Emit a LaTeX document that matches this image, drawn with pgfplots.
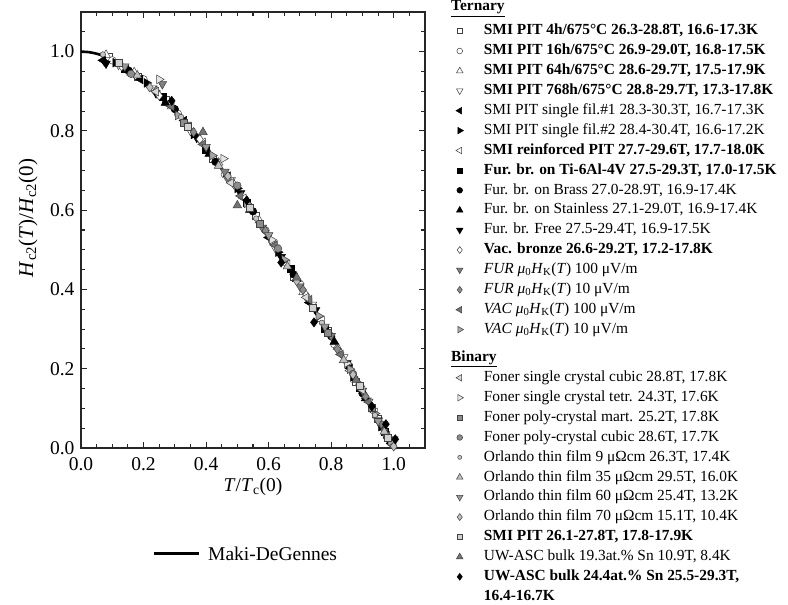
\documentclass[border=0pt]{standalone}
\usepackage{fontspec}
\setmainfont{Liberation Serif}
\usepackage{pgfplots}
\pgfplotsset{compat=1.18}

% marker styles
\pgfplotsset{
  openmk/.style={only marks, mark options={draw=black!75, fill=white, line width=0.5pt, #1}},
  fullmk/.style={only marks, mark options={draw=black, fill=black, line width=0.5pt, #1}},
  greymk/.style 2 args={only marks, mark options={draw=black!75, fill=black!#1, line width=0.5pt, #2}},
  % section headings inside the legend: baseline offset, extra room above, text
  header/.style n args={3}{legend image code/.code={\path (0pt,-7.25pt) (17pt,7.25pt+#2);
      \node[overlay, anchor=base west, inner sep=0pt] at (0pt,#1) {\textbf{\underline{#3}}};}},
  blankimg/.style={legend image code/.code={\path (0pt,0pt) (17pt,0pt);}},
  sqmk/.style={mark=square*, mark size=3.5pt},
  cimk/.style={mark=*, mark size=3.8pt},
  trmk/.style={mark=triangle*, mark size=5pt},
  dimk/.style={mark=diamond*, mark size=4.6pt},
}

\begin{document}
\begin{tikzpicture}
\begin{axis}[
  at={(81pt,157pt)}, anchor=south west,
  scale only axis, width=344pt, height=436pt,
  xmin=0, xmax=1.1, ymin=0, ymax=1.1,
  xtick={0,0.2,...,1.2}, ytick={0,0.2,...,1.2},
  minor x tick num=3, minor y tick num=3,
  tick align=inside, tick pos=both,
  major tick length=6pt, minor tick length=4pt,
  axis line style={line width=1.4pt, black!85},
  every tick/.append style={line width=1.1pt, black!85},
  /pgf/number format/assume math mode=true,
  tick label style={font=\fontsize{19.5}{22}\selectfont},
  xticklabel style={/pgf/number format/fixed, /pgf/number format/fixed zerofill, /pgf/number format/precision=1, yshift=-6pt},
  yticklabel style={/pgf/number format/fixed, /pgf/number format/fixed zerofill, /pgf/number format/precision=1, xshift=-3pt},
  xlabel={\textit{T}/\textit{T}\textsubscript{c}(0)},
  ylabel={\textit{H}\textsubscript{c2}(\textit{T})/\textit{H}\textsubscript{c2}(0)},
  xlabel style={font=\fontsize{19.5}{22}\selectfont, at={(axis description cs:0.5,-0.089)}, anchor=center},
  ylabel style={font=\fontsize{21}{24}\selectfont, at={(axis description cs:-0.154,0.5275)}, anchor=center},
  legend cell align=left,
  legend style={at={(1.0756,1.0194)}, anchor=north west, draw=none, fill=none,
    inner sep=0pt, outer sep=0pt, row sep=5.4pt, column sep=15.5pt,
    font=\fontsize{15.4}{18}\selectfont,
    nodes={inner sep=0pt, text height=11pt, text depth=3.5pt}},
  legend image post style={every mark/.append style={scale=0.75}},
]
% Maki-DeGennes temperature dependence
\addplot[black, line width=2.6pt, smooth, forget plot] coordinates {
  (0,1.0000)(0.025,0.9987)(0.05,0.9948)(0.075,0.9884)(0.1,0.9798)(0.125,0.9690)
  (0.15,0.9565)(0.175,0.9423)(0.2,0.9264)(0.225,0.9091)(0.25,0.8905)(0.275,0.8707)
  (0.3,0.8500)(0.35,0.8049)(0.4,0.7564)(0.45,0.7048)(0.5,0.6504)(0.55,0.5935)
  (0.6,0.5343)(0.65,0.4732)(0.7,0.4100)(0.75,0.3453)(0.8,0.2790)(0.85,0.2112)
  (0.9,0.1420)(0.95,0.0716)(0.975,0.0360)(1.0,0.0)};
% ---------------- Ternary ----------------
\addlegendimage{header={0pt}{0pt}{Ternary}}\addlegendentry{}
\addplot[openmk, sqmk] coordinates {(0.09,0.986)(0.18,0.936)(0.27,0.879)(0.42,0.731)(0.56,0.585)(0.68,0.431)(0.79,0.296)(0.88,0.166)(0.95,0.075)(0.99,0.018)};
\addlegendentry{\textbf{SMI PIT 4h/675°C 26.3-28.8T, 16.6-17.3K}}
\addplot[openmk, cimk] coordinates {(0.10,0.978)(0.20,0.930)(0.31,0.843)(0.46,0.690)(0.59,0.549)(0.70,0.414)(0.81,0.262)(0.89,0.159)(0.96,0.060)};
\addlegendentry{\textbf{SMI PIT 16h/675°C 26.9-29.0T, 16.8-17.5K}}
\addplot[openmk, trmk] coordinates {(0.08,0.992)(0.17,0.948)(0.29,0.862)(0.44,0.720)(0.57,0.574)(0.71,0.393)(0.82,0.255)(0.91,0.131)(0.98,0.032)};
\addlegendentry{\textbf{SMI PIT 64h/675°C 28.6-29.7T, 17.5-17.9K}}
\addplot[openmk={rotate=180}, trmk] coordinates {(0.12,0.967)(0.23,0.907)(0.35,0.800)(0.48,0.676)(0.62,0.506)(0.74,0.362)(0.84,0.229)(0.92,0.117)(0.99,0.012)};
\addlegendentry{\textbf{SMI PIT 768h/675°C 28.8-29.7T, 17.3-17.8K}}
\addplot[fullmk={rotate=90}, trmk] coordinates {(0.07,0.978)(0.19,0.930)(0.33,0.826)(0.47,0.686)(0.60,0.531)(0.73,0.367)(0.86,0.201)(0.97,0.047)};
\addlegendentry{SMI PIT single fil.\#1 28.3-30.3T, 16.7-17.3K}
\addplot[fullmk={rotate=-90}, trmk] coordinates {(0.11,0.972)(0.21,0.921)(0.36,0.791)(0.50,0.655)(0.63,0.494)(0.76,0.328)(0.87,0.179)(0.96,0.054)};
\addlegendentry{SMI PIT single fil.\#2 28.4-30.4T, 16.6-17.2K}
\addplot[openmk={rotate=90}, trmk] coordinates {(0.28,0.866)(0.39,0.771)(0.52,0.630)(0.66,0.463)(0.77,0.322)(0.86,0.195)(0.94,0.090)(1.00,0.008)};
\addlegendentry{\textbf{SMI reinforced PIT 27.7-29.6T, 17.7-18.0K}}
\addplot[fullmk, sqmk] coordinates {(0.14,0.958)(0.26,0.886)(0.40,0.752)(0.53,0.619)(0.67,0.451)(0.78,0.302)(0.89,0.152)(0.97,0.040)};
\addlegendentry{\textbf{Fur. br. on Ti-6Al-4V 27.5-29.3T, 17.0-17.5K}}
\addplot[fullmk, cimk] coordinates {(0.15,0.953)(0.30,0.855)(0.43,0.722)(0.55,0.597)(0.68,0.438)(0.80,0.282)(0.90,0.138)(0.98,0.025)};
\addlegendentry{Fur. br. on Brass 27.0-28.9T, 16.9-17.4K}
\addplot[fullmk, trmk] coordinates {(0.16,0.947)(0.27,0.871)(0.41,0.742)(0.54,0.601)(0.69,0.426)(0.81,0.268)(0.91,0.125)(0.99,0.017)};
\addlegendentry{Fur. br. on Stainless 27.1-29.0T, 16.9-17.4K}
\addplot[fullmk={rotate=180}, trmk] coordinates {(0.08,0.970)(0.24,0.895)(0.37,0.783)(0.51,0.643)(0.64,0.482)(0.75,0.348)(0.85,0.214)(0.95,0.070)(1.00,0.022)};
\addlegendentry{Fur. br. Free 27.5-29.4T, 16.9-17.5K}
\addplot[openmk, dimk] coordinates {(0.13,0.963)(0.25,0.889)(0.38,0.779)(0.49,0.664)(0.61,0.520)(0.72,0.386)(0.83,0.240)(0.93,0.103)(0.99,0.020)};
\addlegendentry{\textbf{Vac. bronze 26.6-29.2T, 17.2-17.8K}}
\addplot[greymk={50}{rotate=180}, trmk] coordinates {(0.26,0.918)(0.34,0.816)(0.46,0.697)(0.58,0.556)(0.70,0.408)(0.80,0.283)(0.90,0.145)(0.96,0.061)};
\addlegendentry{\textit{FUR} \textit{μ}\textsubscript{0}\textit{H}\textsubscript{K}(\textit{T}) 100 μV/m}
\addplot[greymk={45}{}, dimk] coordinates {(0.24,0.902)(0.36,0.797)(0.47,0.679)(0.59,0.548)(0.71,0.399)(0.82,0.249)(0.91,0.130)(0.97,0.045)};
\addlegendentry{\textit{FUR} \textit{μ}\textsubscript{0}\textit{H}\textsubscript{K}(\textit{T}) 10 μV/m}
\addplot[greymk={55}{rotate=90}, trmk] coordinates {(0.29,0.862)(0.39,0.766)(0.51,0.636)(0.62,0.512)(0.73,0.374)(0.83,0.236)(0.92,0.116)(0.98,0.031)};
\addlegendentry{\textit{VAC} \textit{μ}\textsubscript{0}\textit{H}\textsubscript{K}(\textit{T}) 100 μV/m}
\addplot[greymk={35}{rotate=-90}, trmk] coordinates {(0.31,0.839)(0.42,0.738)(0.53,0.617)(0.65,0.475)(0.76,0.333)(0.86,0.199)(0.94,0.087)(0.99,0.016)};
\addlegendentry{\textit{VAC} \textit{μ}\textsubscript{0}\textit{H}\textsubscript{K}(\textit{T}) 10 μV/m}
% ---------------- Binary ----------------
\addlegendimage{header={-3.75pt}{8pt}{Binary}}\addlegendentry{}
\addplot[greymk={15}{rotate=90}, trmk] coordinates {(0.24,0.899)(0.48,0.669)(0.72,0.380)(0.90,0.146)};
\addlegendentry{Foner single crystal cubic 28.8T, 17.8K}
\addplot[greymk={10}{rotate=-90}, trmk] coordinates {(0.25,0.930)(0.455,0.730)(0.61,0.525)(0.85,0.214)};
\addlegendentry{Foner single crystal tetr. 24.3T, 17.6K}
\addplot[greymk={45}{}, sqmk] coordinates {(0.33,0.821)(0.57,0.567)(0.79,0.290)(0.93,0.101)};
\addlegendentry{Foner poly-crystal mart. 25.2T, 17.8K}
\addplot[greymk={45}{}, cimk] coordinates {(0.16,0.944)(0.50,0.662)(0.63,0.503)(0.87,0.187)};
\addlegendentry{Foner poly-crystal cubic 28.6T, 17.7K}
\addplot[greymk={22}{}, mark=*, mark size=2.7pt] coordinates {(0.07,0.993)(0.32,0.835)(0.56,0.579)(0.77,0.316)(0.94,0.083)};
\addlegendentry{Orlando thin film 9 μΩcm 26.3T, 17.4K}
\addplot[greymk={25}{}, trmk] coordinates {(0.18,0.940)(0.44,0.712)(0.66,0.458)(0.84,0.222)(0.97,0.041)};
\addlegendentry{Orlando thin film 35 μΩcm 29.5T, 16.0K}
\addplot[greymk={40}{rotate=180}, trmk] coordinates {(0.14,0.963)(0.40,0.760)(0.60,0.537)(0.78,0.306)(0.95,0.068)};
\addlegendentry{Orlando thin film 60 μΩcm 25.4T, 13.2K}
\addplot[greymk={25}{}, dimk] coordinates {(0.22,0.910)(0.47,0.686)(0.69,0.421)(0.87,0.185)(1.00,0.004)};
\addlegendentry{Orlando thin film 70 μΩcm 15.1T, 10.4K}
\addplot[greymk={18}{}, sqmk] coordinates {(0.12,0.972)(0.34,0.811)(0.54,0.606)(0.74,0.355)(0.89,0.158)(0.98,0.027)};
\addlegendentry{\textbf{SMI PIT 26.1-27.8T, 17.8-17.9K}}
\addplot[greymk={55}{}, trmk] coordinates {(0.39,0.797)(0.50,0.612)(0.69,0.430)(0.88,0.172)};
\addlegendentry{UW-ASC bulk 19.3at.\% Sn 10.9T, 8.4K}
\addplot[fullmk, dimk] coordinates {(0.075,0.975)(0.29,0.876)(0.53,0.625)(0.64,0.468)(0.745,0.317)(0.93,0.105)(0.975,0.060)(1.005,0.022)};
\addlegendentry{\textbf{UW-ASC bulk 24.4at.\% Sn 25.5-29.3T,}}
\addlegendimage{blankimg}\addlegendentry{\textbf{16.4-16.7K}}
\end{axis}

% legend for the fitted curve
\begin{axis}[
  at={(0pt,0pt)}, anchor=south west, scale only axis, width=100pt, height=100pt,
  hide axis, xmin=0, xmax=1, ymin=0, ymax=1,
  legend style={at={(1.52,0.51)}, anchor=west, draw=none, fill=none, inner sep=0pt,
    column sep=8pt, font=\fontsize{19.5}{22}\selectfont, nodes={inner sep=0pt}},
  legend image code/.code={\draw[#1] (0pt,0pt) -- (45pt,0pt);},
]
\addlegendimage{black, line width=3pt}
\addlegendentry{Maki-DeGennes}
\end{axis}

\pgfresetboundingbox
\path[use as bounding box] (0pt,0pt) rectangle (788pt,605pt);
\end{tikzpicture}
\end{document}
